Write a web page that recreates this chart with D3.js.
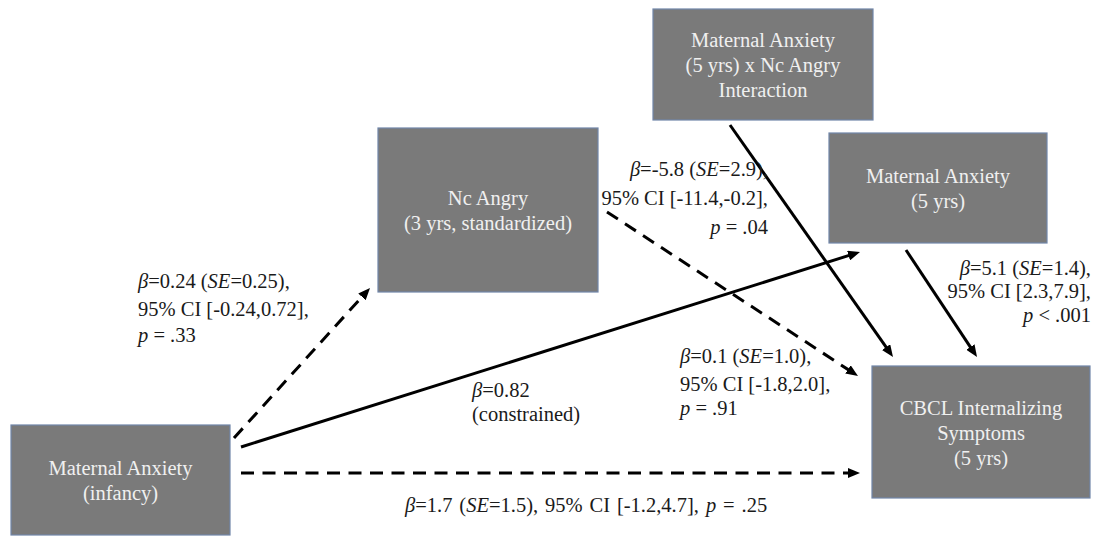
<!DOCTYPE html>
<html>
<head>
<meta charset="utf-8">
<script src="https://cdn.jsdelivr.net/npm/d3@7"></script>
<style>
  html, body { margin: 0; padding: 0; background: #ffffff; }
  svg { display: block; }
</style>
</head>
<body>
<svg id="diagram" width="1095" height="536"></svg>
<script>
// ---- Model content -------------------------------------------------------
const nodeIds = ["infancy", "nc", "inter", "ma5", "cbcl"];
const nodeLabels = [
  ["Maternal Anxiety", "(infancy)"],
  ["Nc Angry", "(3 yrs, standardized)"],
  ["Maternal Anxiety", "(5 yrs) x Nc Angry", "Interaction"],
  ["Maternal Anxiety", "(5 yrs)"],
  ["CBCL Internalizing", "Symptoms", "(5 yrs)"]
];

// Structural paths (source -> target) and their estimates
const pathFrom = ["infancy", "infancy", "infancy", "nc", "inter", "ma5"];
const pathTo   = ["nc", "ma5", "cbcl", "cbcl", "cbcl", "cbcl"];
const pathSignificant = [false, true, false, false, true, true];
const pathBeta = ["0.24", "0.82", "1.7", "0.1", "-5.8", "5.1"];
const pathSE   = ["0.25", null, "1.5", "1.0", "2.9", "1.4"];
const pathCILow  = ["-0.24", null, "-1.2", "-1.8", "-11.4", "2.3"];
const pathCIHigh = ["0.72", null, "4.7", "2.0", "-0.2", "7.9"];
const pathP    = ["= .33", null, "= .25", "= .91", "= .04", "< .001"];
const pathNote = [null, "(constrained)", null, null, null, null];

// ---- Layout ----------------------------------------------------------------
const boxLayout = {
  infancy: { x: 11,  y: 425, w: 219, h: 110 },
  nc:      { x: 378, y: 128, w: 220, h: 164 },
  inter:   { x: 653, y: 9,   w: 220, h: 111 },
  ma5:     { x: 829, y: 133, w: 218, h: 110 },
  cbcl:    { x: 872, y: 366, w: 218, h: 132 }
};
// arrow start / tip points, in path order
const arrowLayout = [
  { x1: 234, y1: 438, x2: 370, y2: 288 },
  { x1: 241, y1: 447, x2: 860, y2: 252 },
  { x1: 241, y1: 473, x2: 860, y2: 473 },
  { x1: 607, y1: 212, x2: 858, y2: 376 },
  { x1: 730, y1: 125, x2: 893, y2: 357 },
  { x1: 906, y1: 250, x2: 977, y2: 357 }
];
// estimate label placement, in path order
const labelLayout = [
  { x: 138,  anchor: "start", ys: [288, 316, 342] },
  { x: 472,  anchor: "start", ys: [397, 421] },
  { x: 405,  anchor: "start", ys: [512], single: true },
  { x: 680,  anchor: "start", ys: [363, 391, 415] },
  { x: 768,  anchor: "end",   ys: [176, 205, 234] },
  { x: 1091, anchor: "end",   ys: [275, 298, 322] }
];

const FONT = "'Liberation Serif', 'Times New Roman', Times, serif";
const FONT_SIZE = 20.5;
const NODE_LINE = 25;

const svg = d3.select("#diagram");

// Arrowhead
svg.append("defs").append("marker")
  .attr("id", "head")
  .attr("viewBox", "0 -5 12 10")
  .attr("refX", 4).attr("refY", 0)
  .attr("markerUnits", "userSpaceOnUse")
  .attr("markerWidth", 12).attr("markerHeight", 10)
  .attr("orient", "auto")
  .append("path")
  .attr("d", "M0,-5L12,0L0,5Z")
  .attr("fill", "#000");

// ---- Boxes ---------------------------------------------------------------
const nodes = nodeIds.map((id, i) => ({ id, lines: nodeLabels[i], ...boxLayout[id] }));

const gNodes = svg.append("g").selectAll("g").data(nodes).join("g");
gNodes.append("rect")
  .attr("x", d => d.x).attr("y", d => d.y)
  .attr("width", d => d.w).attr("height", d => d.h)
  .attr("fill", "#7a7a7a")
  .attr("stroke", "#7085a8")
  .attr("stroke-width", 1.2);

gNodes.append("text")
  .attr("font-family", FONT)
  .attr("font-size", FONT_SIZE)
  .attr("fill", "#f0f0f0")
  .attr("text-anchor", "middle")
  .selectAll("tspan")
  .data(d => d.lines.map((t, k) => ({ t, k, d })))
  .join("tspan")
  .attr("x", o => o.d.x + o.d.w / 2)
  .attr("y", o => o.d.y + o.d.h / 2 - (o.d.lines.length - 1) * NODE_LINE / 2 + o.k * NODE_LINE + 7.5)
  .text(o => o.t);

// ---- Arrows --------------------------------------------------------------
const paths = pathFrom.map((f, i) => ({
  from: f, to: pathTo[i], sig: pathSignificant[i], geo: arrowLayout[i]
}));

svg.append("g").selectAll("line").data(paths).join("line")
  .each(function (d) {
    const g = d.geo;
    const dx = g.x2 - g.x1, dy = g.y2 - g.y1;
    const len = Math.hypot(dx, dy);
    d.ex = g.x2 - dx / len * 8;
    d.ey = g.y2 - dy / len * 8;
  })
  .attr("x1", d => d.geo.x1).attr("y1", d => d.geo.y1)
  .attr("x2", d => d.ex).attr("y2", d => d.ey)
  .attr("stroke", "#000")
  .attr("stroke-width", 3)
  .attr("stroke-dasharray", d => d.sig ? null : "13,8.5")
  .attr("marker-end", "url(#head)");

// ---- Estimate labels -----------------------------------------------------
function labelLines(i) {
  const beta = [{ t: "\u03b2", it: true }, { t: "=" + pathBeta[i] }];
  if (pathNote[i]) return [beta, [{ t: pathNote[i] }]];
  const l1 = beta.concat([{ t: " (" }, { t: "SE", it: true }, { t: "=" + pathSE[i] + ")," }]);
  const l2 = [{ t: "95% CI [" + pathCILow[i] + "," + pathCIHigh[i] + "]," }];
  const l3 = [{ t: "p", it: true }, { t: " " + pathP[i] }];
  if (labelLayout[i].single) return [l1.concat([{ t: " " }], l2, [{ t: " " }], l3)];
  return [l1, l2, l3];
}

const labels = pathFrom.map((_, i) => ({ lines: labelLines(i), lay: labelLayout[i] }));

const gLabels = svg.append("g").selectAll("text").data(labels).join("text")
  .attr("font-family", FONT)
  .attr("font-size", FONT_SIZE)
  .attr("fill", "#1a1a1a")
  .attr("word-spacing", d => d.lay.single ? 1.8 : null)
  .attr("text-anchor", d => d.lay.anchor);

gLabels.selectAll("tspan.line")
  .data(d => d.lines.map((segs, k) => ({ segs, x: d.lay.x, y: d.lay.ys[k] })))
  .join("tspan")
  .attr("class", "line")
  .attr("x", o => o.x)
  .attr("y", o => o.y)
  .selectAll("tspan")
  .data(o => o.segs)
  .join("tspan")
  .attr("font-style", s => s.it ? "italic" : null)
  .text(s => s.t);
</script>
</body>
</html>
